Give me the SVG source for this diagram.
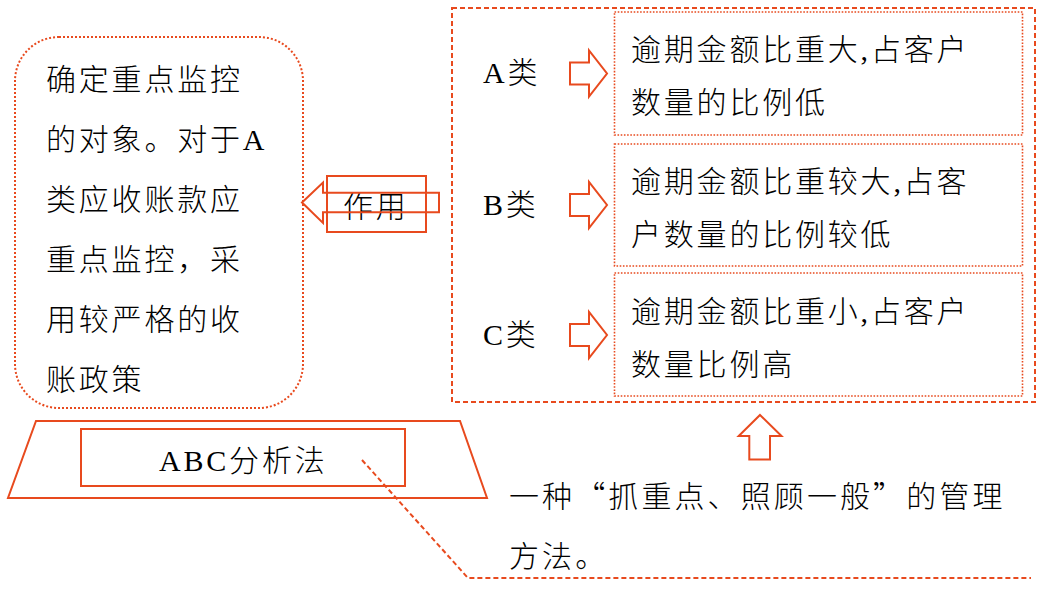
<svg xmlns="http://www.w3.org/2000/svg" width="1053" height="611" viewBox="0 0 1053 611">
  <defs>
    <style>
      .t { font-family: "Liberation Serif", "Noto Sans CJK SC", serif; font-size: 30px; font-weight: 300; fill: #000; letter-spacing: 2.8px; }
      .tc { font-family: "Noto Sans CJK SC", "Liberation Serif", sans-serif; font-size: 30px; font-weight: 300; fill: #000; letter-spacing: 3.1px; }
      .solid { fill: none; stroke: #E84A1E; stroke-width: 2; }
      .dot { fill: none; stroke: #E84A1E; stroke-width: 1.6; stroke-dasharray: 1.6 1.6; }
      .dotL { fill: none; stroke: #E84A1E; stroke-width: 2; stroke-dasharray: 2 2; }
      .dash { fill: none; stroke: #E84A1E; stroke-width: 2; stroke-dasharray: 5 3; }
    </style>
    <path id="rarrow" d="M0,-11 H19 V-23 L37,0 L19,23 V11 H0 Z" fill="#fff" stroke="#E84A1E" stroke-width="2"/>
  </defs>
  <rect width="1053" height="611" fill="#fff"/>

  <g id="node-purpose">
    <rect class="dotL" x="15" y="37" width="288" height="371" rx="44" ry="44"/>
    <text class="t" x="46" y="90">确定重点监控</text>
    <text class="t" x="46" y="150">的对象。对于A</text>
    <text class="t" x="46" y="210">类应收账款应</text>
    <text class="t" x="46" y="270">重点监控，采</text>
    <text class="t" x="46" y="330">用较严格的收</text>
    <text class="t" x="46" y="390">账政策</text>
  </g>

  <g id="node-role">
    <rect class="solid" x="327" y="176" width="99" height="56"/>
    <text class="t" x="343" y="217">作用</text>
    <path class="solid" d="M302,202.5 L323,182.5 V192.7 H439 V212.3 H323 V223 Z"/>
  </g>

  <g id="node-classes">
    <rect class="dash" x="452" y="8" width="583" height="394"/>
  </g>

  <g id="node-A">
    <text class="t" x="483" y="83">A类</text>
    <rect class="dot" x="614.5" y="12" width="408" height="123"/>
    <text class="t" x="631" y="60">逾期金额比重大,占客户</text>
    <text class="t" x="631" y="113">数量的比例低</text>
  </g>

  <g id="node-B">
    <text class="t" x="483" y="215">B类</text>
    <rect class="dot" x="614.5" y="144" width="408" height="122"/>
    <text class="t" x="631" y="192">逾期金额比重较大,占客</text>
    <text class="t" x="631" y="245">户数量的比例较低</text>
  </g>

  <g id="node-C">
    <text class="t" x="483" y="345">C类</text>
    <rect class="dot" x="614.5" y="273" width="408" height="123"/>
    <text class="t" x="631" y="322">逾期金额比重小,占客户</text>
    <text class="t" x="631" y="375">数量比例高</text>
  </g>

  <g id="node-abc">
    <path class="solid" d="M36,421 H460 L487,498 H8 Z"/>
    <rect class="solid" x="81" y="429" width="324" height="57"/>
    <text class="t" x="159" y="471" letter-spacing="2.8">ABC分析法</text>
  </g>

  <g id="node-desc">
    <text class="tc" x="509" y="507">一种“抓重点、照顾一般”的管理</text>
    <text class="tc" x="509" y="567">方法。</text>
  </g>

  <g id="connectors">
    <use href="#rarrow" x="570" y="73.5"/>
    <use href="#rarrow" x="570" y="205"/>
    <use href="#rarrow" x="570" y="335"/>
    <path class="solid" d="M760,415 L781.5,436 H770 V459.5 H749.3 V436 H738.7 Z"/>
    <path class="dash" d="M362,460 L468,578 H1031"/>
  </g>
</svg>
